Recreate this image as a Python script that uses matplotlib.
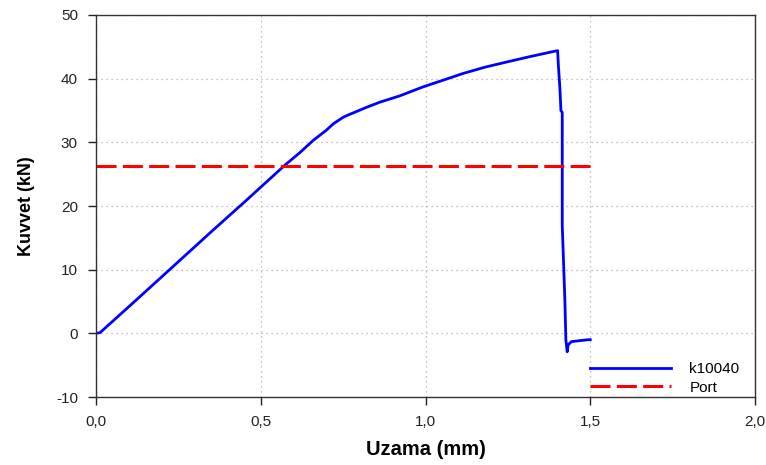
import matplotlib
matplotlib.use("Agg")
import matplotlib.pyplot as plt
from matplotlib.ticker import FuncFormatter

# k10040 test curve
uzama = [0.0, 0.012, 0.10, 0.20, 0.355, 0.45, 0.573, 0.619, 0.659, 0.699,
         0.720, 0.749, 0.761, 0.821, 0.861, 0.922, 0.992, 1.05, 1.113, 1.18,
         1.245, 1.32, 1.391, 1.401, 1.403, 1.408, 1.411, 1.415, 1.415,
         1.423, 1.426, 1.430, 1.433, 1.443, 1.494, 1.50]
kuvvet = [0.0, 0.1, 4.2, 8.9, 16.2, 20.6, 26.4, 28.4, 30.3, 31.9,
          32.9, 33.9, 34.2, 35.5, 36.3, 37.3, 38.7, 39.7, 40.8, 41.8,
          42.6, 43.5, 44.3, 44.4, 42.3, 38.4, 35.0, 34.7, 17.0,
          5.2, -1.0, -2.9, -1.8, -1.3, -1.0, -1.0]

port_x = [0.0, 1.5]
port_y = [26.3, 26.3]

plt.rcParams['font.family'] = ['Liberation Sans', 'DejaVu Sans']
plt.rcParams['axes.unicode_minus'] = False

fig = plt.figure(figsize=(7.66, 4.65), dpi=100)
ax = fig.add_axes([96 / 766, 1 - 397 / 465, 659 / 766, 382 / 465])

ax.plot(uzama, kuvvet, color='#0000ff', lw=2, label='k10040')
ax.plot(port_x, port_y, color='#ff0000', lw=2.2, dashes=(6.55, 2.07), label='Port')

ax.set_xlim(0, 2.0)
ax.set_ylim(-10, 50)
ax.set_xticks([0, 0.5, 1.0, 1.5, 2.0])
ax.set_yticks(range(-10, 51, 10))
ax.xaxis.set_major_formatter(FuncFormatter(lambda v, p: f"{v:.1f}".replace('.', ',')))

ax.grid(True, linestyle=(0, (1, 3)), color='#b0b0b0', lw=0.9)
ax.tick_params(direction='out', length=6, width=1, labelsize=11,
               colors='#222222', pad=7)
for s in ax.spines.values():
    s.set_color('#333333')
    s.set_linewidth(1)

ax.set_xlabel('Uzama (mm)', fontsize=14.5, fontweight='bold', labelpad=8)
ax.set_ylabel('Kuvvet (kN)', fontsize=13, fontweight='bold', labelpad=15)

ax.legend(loc='upper left', bbox_to_anchor=(590 / 766, 1 - 362 / 465),
          bbox_transform=fig.transFigure, frameon=False, borderpad=0,
          borderaxespad=0, handlelength=5.3, handletextpad=1.2,
          labelspacing=0.3, fontsize=11)

fig.savefig('out.png', dpi=100)
